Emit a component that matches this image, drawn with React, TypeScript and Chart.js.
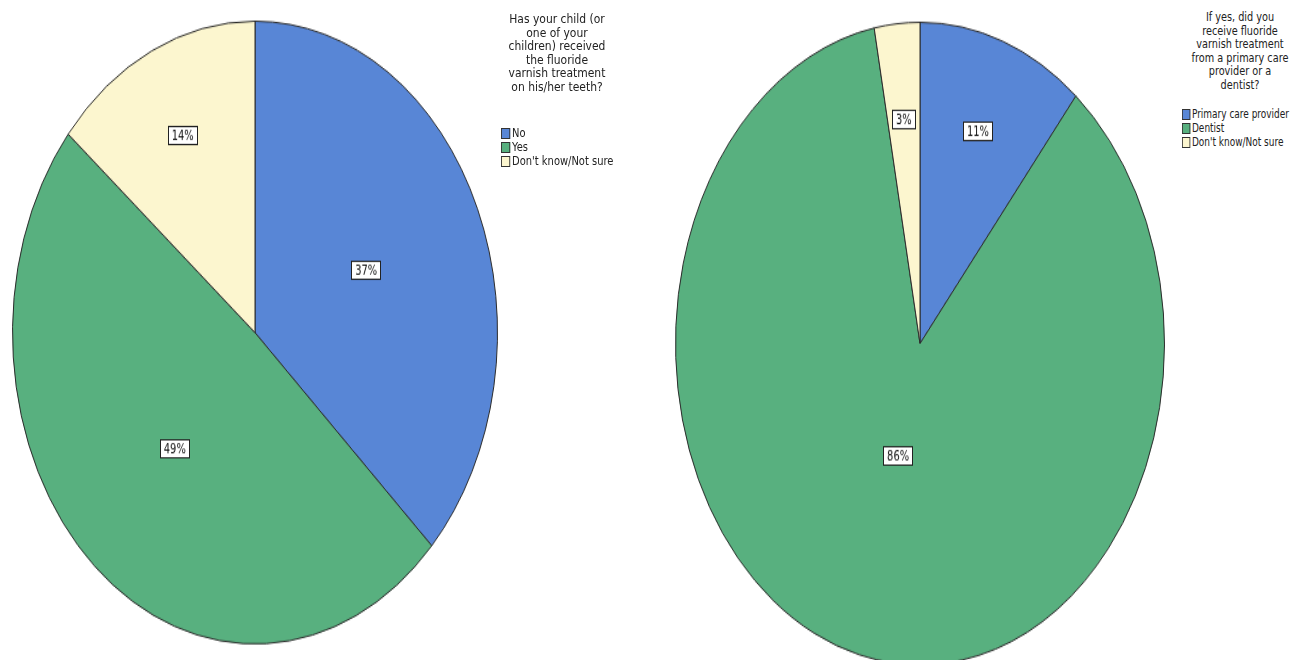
import React, { useEffect, useRef } from "react";
import { Chart, registerables } from "chart.js";

Chart.register(...registerables);

const leftCategories = ["No", "Yes", "Don't know/Not sure"];
const leftValues = [37, 49, 14];
const leftTitle = ["Has your child (or", "one of your", "children) received", "the fluoride", "varnish treatment", "on his/her teeth?"];

const rightCategories = ["Primary care provider", "Dentist", "Don't know/Not sure"];
const rightValues = [11, 86, 3];
const rightTitle = ["If yes, did you", "receive fluoride", "varnish treatment", "from a primary care", "provider or a", "dentist?"];

const sliceColors = ["#5886d6", "#58b07f", "#fcf6cf"];
const FONT = "'Liberation Sans Narrow', 'DejaVu Sans Condensed', 'Arial Narrow', sans-serif";

const labelPlugin = {
  id: "sliceLabels",
  afterDatasetsDraw(chart: any) {
    const ctx = chart.ctx;
    const meta = chart.getDatasetMeta(0);
    const data = chart.data.datasets[0].data as number[];
    const total = data.reduce((a, b) => a + b, 0);
    ctx.save();
    ctx.font = `11px ${FONT}`;
    ctx.textAlign = "center";
    ctx.textBaseline = "middle";
    meta.data.forEach((arc: any, i: number) => {
      const p = arc.getProps(["x", "y", "startAngle", "endAngle", "outerRadius"], true);
      const frac = data[i] / total;
      const mid = (p.startAngle + p.endAngle) / 2;
      const rf = frac < 0.2 ? 0.7 : frac > 0.6 ? 0.36 : 0.5;
      const lx = p.x + Math.cos(mid) * p.outerRadius * rf;
      const ly = p.y + Math.sin(mid) * p.outerRadius * rf;
      const text = Math.round(frac * 100) + "%";
      const w = ctx.measureText(text).width + 8;
      const h = 15;
      ctx.fillStyle = "#ffffff";
      ctx.fillRect(Math.round(lx - w / 2), Math.round(ly - h / 2), Math.round(w), h);
      ctx.strokeStyle = "#222";
      ctx.lineWidth = 1;
      ctx.strokeRect(Math.round(lx - w / 2) + 0.5, Math.round(ly - h / 2) + 0.5, Math.round(w) - 1, h - 1);
      ctx.fillStyle = "#111";
      ctx.fillText(text, lx, ly + 0.5);
    });
    ctx.restore();
  },
};

function Pie(props: { labels: string[]; values: number[]; radius: number; left: number; top: number; scaleY: number }) {
  const ref = useRef<HTMLCanvasElement | null>(null);
  const size = props.radius * 2 + 4;
  useEffect(() => {
    if (!ref.current) return;
    const chart = new Chart(ref.current, {
      type: "pie",
      data: {
        labels: props.labels,
        datasets: [
          {
            data: props.values,
            backgroundColor: sliceColors,
            borderColor: "#2b2b2b",
            borderWidth: 1,
          },
        ],
      },
      options: {
        responsive: false,
        animation: false,
        layout: { padding: 2 },
        plugins: { legend: { display: false }, tooltip: { enabled: false } },
      },
      plugins: [labelPlugin],
    });
    return () => chart.destroy();
  }, []);
  return (
    <div
      style={{
        position: "absolute",
        left: props.left,
        top: props.top,
        width: size,
        height: size,
        transform: `scale(1, ${props.scaleY})`,
        transformOrigin: "0 0",
      }}
    >
      <canvas ref={ref} width={size} height={size} />
    </div>
  );
}

function Legend(props: {
  title: string[];
  labels: string[];
  left: number;
  top: number;
  width: number;
  itemsTop: number;
  itemsLeft: number;
  squeeze: number;
}) {
  return (
    <>
      <div
        style={{
          position: "absolute",
          left: props.left,
          top: props.top,
          width: props.width,
          textAlign: "center",
          fontFamily: FONT,
          fontSize: 13,
          lineHeight: "13.5px",
          color: "#222",
          transform: `scaleX(${props.squeeze})`,
          transformOrigin: "50% 0",
        }}
      >
        {props.title.map((t, i) => (
          <div key={i} style={{ whiteSpace: "nowrap" }}>{t}</div>
        ))}
      </div>
      <div
        style={{
          position: "absolute",
          left: props.itemsLeft,
          top: props.itemsTop,
          fontFamily: FONT,
          fontSize: 12,
          lineHeight: "14px",
          color: "#222",
          whiteSpace: "nowrap",
          transform: `scaleX(${props.squeeze})`,
          transformOrigin: "0 0",
        }}
      >
        {props.labels.map((t, i) => (
          <div key={i} style={{ display: "flex", alignItems: "center" }}>
            <span
              style={{
                display: "inline-block",
                width: 8,
                height: 9,
                background: sliceColors[i],
                border: "1px solid #333",
                marginRight: 2,
              }}
            />
            <span>{t}</span>
          </div>
        ))}
      </div>
    </>
  );
}

export default function App() {
  return (
    <div
      style={{
        position: "fixed",
        left: 0,
        top: 0,
        width: 1294,
        height: 660,
        background: "#ffffff",
        overflow: "hidden",
      }}
    >
      <Pie labels={leftCategories} values={leftValues} radius={243} left={10} top={18} scaleY={1.284} />
      <Pie labels={rightCategories} values={rightValues} radius={245} left={673} top={19} scaleY={1.314} />
      <Legend
        title={leftTitle}
        labels={leftCategories}
        left={494}
        top={12}
        width={126}
        itemsLeft={501}
        itemsTop={126}
        squeeze={0.92}
      />
      <Legend
        title={rightTitle}
        labels={rightCategories}
        left={1180}
        top={10}
        width={120}
        itemsLeft={1182}
        itemsTop={107}
        squeeze={0.83}
      />
    </div>
  );
}
